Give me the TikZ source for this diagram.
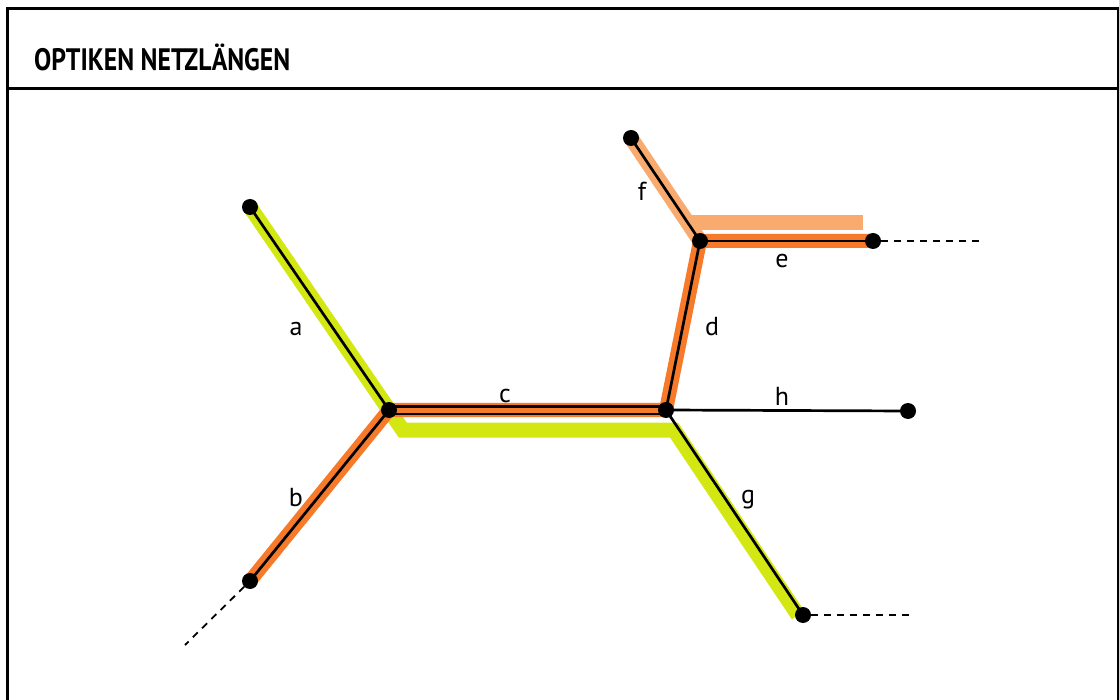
\documentclass[tikz,border=0pt]{standalone}
\usepackage{fontspec}
\setmainfont{PT Sans}
\newfontfamily\titlefont[FakeStretch=0.83]{PT Sans}
\definecolor{netgreen}{HTML}{D3E713}
\definecolor{netorange}{HTML}{F77A2A}
\definecolor{netpeach}{HTML}{F9AA6E}
\tikzset{
  frame/.style={line width=3, draw=black},
  band/.style={line width=15, line join=miter, line cap=butt},
  cable/.style={line width=2.7, draw=black, line cap=round},
  stub/.style={line width=1.8, draw=black, dash pattern=on 7 off 6},
  dot/.style={circle, fill=black, inner sep=0pt, minimum size=16},
  lbl/.style={inner sep=0pt, font=\fontsize{26}{28}\selectfont},
}
\begin{document}
\begin{tikzpicture}[x=1pt, y=-1pt]
\useasboundingbox (0,0) rectangle (1119,700);
\clip (0,0) rectangle (1119,700);

% frame and title bar
\draw[frame] (7.5,8.5) rectangle (1118.5,720);
\draw[frame] (7.5,89) -- (1118.5,89);
\node[anchor=west, inner sep=0pt, font=\titlefont\bfseries\fontsize{31}{33}\selectfont] (title) at (34,57.5) {OPTIKEN NETZLÄNGEN};

% network points
\coordinate (A) at (250,207);
\coordinate (B) at (250,581);
\coordinate (J1) at (389,410);
\coordinate (J2) at (666,410);
\coordinate (J3) at (700,241);
\coordinate (E) at (873,241);
\coordinate (F) at (631,138);
\coordinate (G) at (803,615);
\coordinate (H) at (908,411);
\coordinate (Bx) at (185,645);
\coordinate (Gx) at (910,615);
\coordinate (Ex) at (980,241);

% route highlights
\draw[band, netpeach] (F) -- (J3);
\draw[band, netpeach] (690,222.5) -- (863,222.5);
\draw[band, netgreen] (A) -- (402.7,430) -- (674,430) -- (798,615);
\draw[band, line width=14, netorange] (B) -- (J1) -- (J2) -- (J3) -- (E);

% cable segments
\draw[cable] (A) -- (J1);
\draw[cable] (B) -- (J1);
\draw[line width=2.3, draw=black, double=netorange, double distance=5] (J1) -- (J2);
\draw[cable] (J2) -- (J3);
\draw[cable] (J3) -- (E);
\draw[cable] (F) -- (J3);
\draw[cable] (J2) -- (G);
\draw[cable] (J2) -- (H);

% junctions and ends
\node[dot] (dA) at (A) {};
\node[dot] (dB) at (B) {};
\node[dot] (dJ1) at (J1) {};
\node[dot] (dJ2) at (J2) {};
\node[dot] (dJ3) at (J3) {};
\node[dot] (dE) at (E) {};
\node[dot] (dF) at (F) {};
\node[dot] (dG) at (G) {};
\node[dot] (dH) at (H) {};

% continuing cables
\draw[stub] (dB) -- (Bx);
\draw[stub] (dG) -- (Gx);
\draw[stub] (dE) -- (Ex);

% segment labels
\node[lbl] (la) at (296,329) {a};
\node[lbl] (lb) at (296,498) {b};
\node[lbl] (lc) at (505,396) {c};
\node[lbl] (ld) at (712,327) {d};
\node[lbl] (le) at (782,261) {e};
\node[lbl] (lf) at (642,191) {f};
\node[lbl] (lg) at (748,500) {g};
\node[lbl] (lh) at (782,396) {h};
\end{tikzpicture}
\end{document}
